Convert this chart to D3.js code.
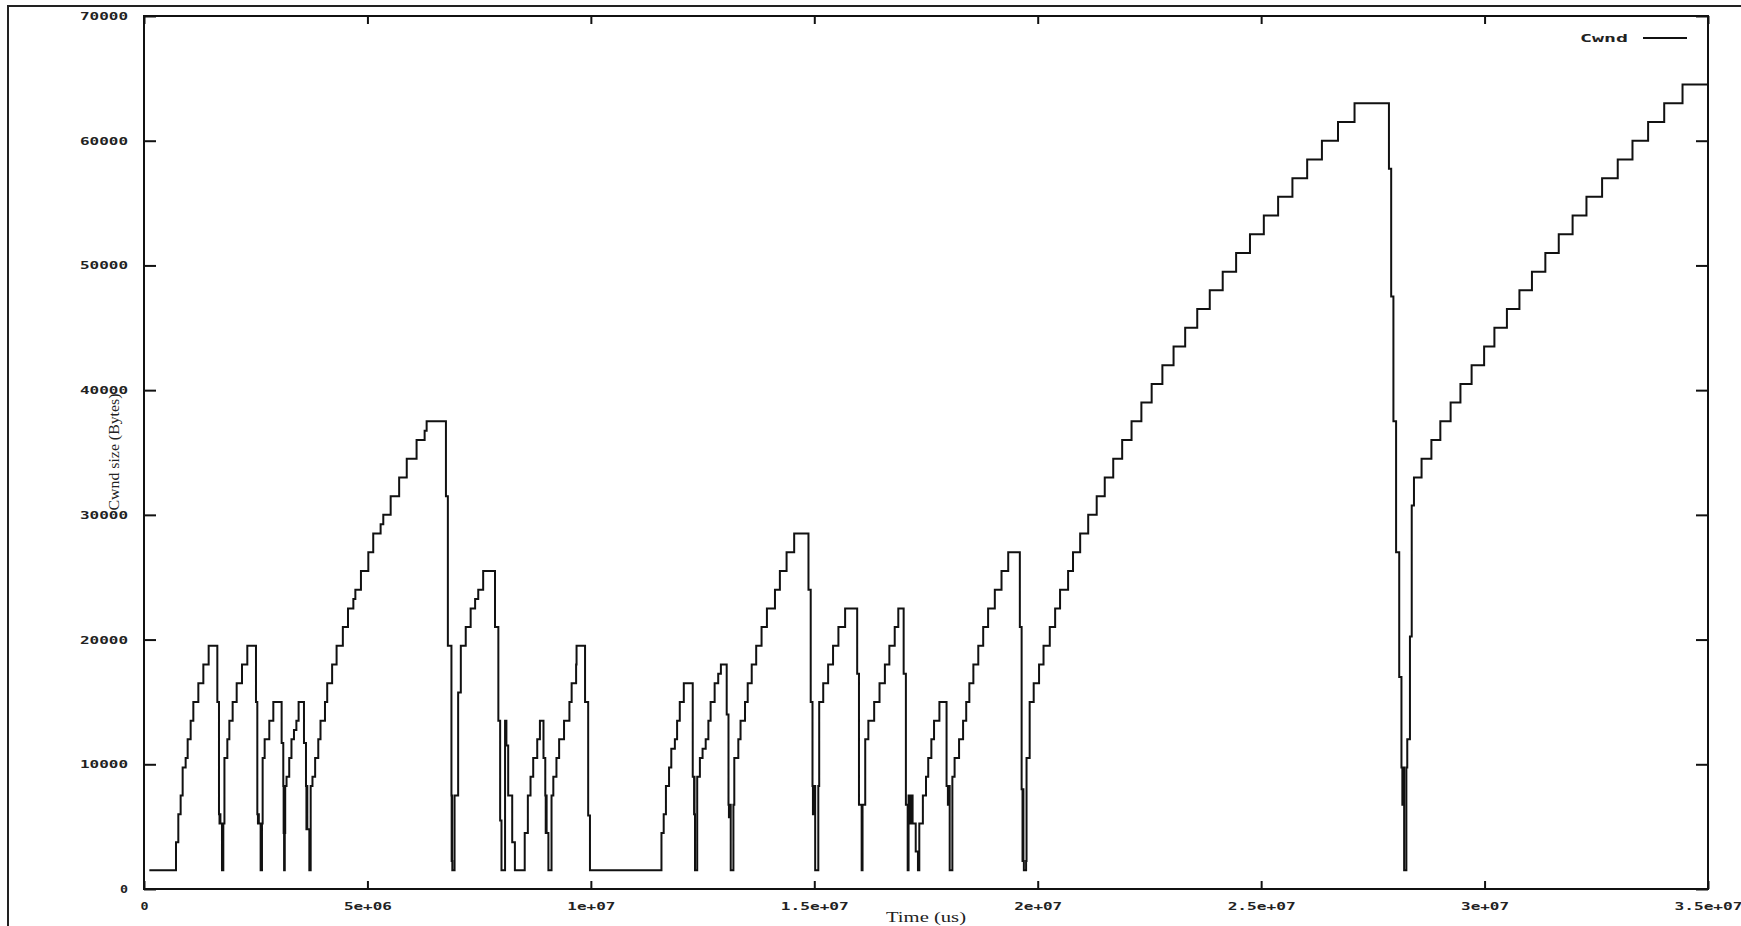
<!DOCTYPE html>
<html><head><meta charset="utf-8">
<script src="https://cdn.jsdelivr.net/npm/d3@7"></script>
<style>body{margin:0;background:#fff;} svg{display:block;}</style>
</head><body>
<svg id="chart" width="1741" height="926"></svg>
<script>
// time in seconds (axis is labelled in microseconds), cwnd in bytes
const timeSec = [
0.12,0.716,0.768,0.82,0.865,0.932,0.977,1.044,1.104,1.216,1.328,1.447,1.641,1.678,1.69,1.70,1.71,1.745,1.775,1.80,
1.865,1.91,1.984,2.074,2.193,2.312,2.506,2.536,2.55,2.56,2.57,2.61,2.64,2.655,
2.70,2.804,2.894,3.08,3.117,3.125,3.13,3.135,3.15,3.16,3.19,
3.25,3.30,3.356,3.41,3.46,3.58,3.625,3.635,3.645,3.655,3.70,3.73,
3.77,3.83,3.90,3.95,4.05,4.10,4.21,4.31,4.45,4.565,4.685,4.73,4.855,5.02,5.13,5.295,5.355,5.52,5.71,5.88,6.10,6.28,6.325,
6.757,6.80,6.88,6.885,6.89,6.895,6.90,6.95,7.03,7.09,7.20,7.31,7.41,7.48,7.59,
7.855,7.93,7.97,8.0,8.08,8.09,8.10,8.11,8.15,8.24,8.30,8.52,8.59,8.65,8.71,8.80,8.86,8.94,8.98,8.99,9.0,9.01,9.05,
9.12,9.16,9.23,9.29,9.40,9.52,9.57,9.67,9.68,9.87,9.94,9.98,
11.58,11.63,11.68,11.75,11.80,11.88,11.93,11.99,12.08,12.28,12.31,12.315,12.32,12.33,12.38,
12.44,12.50,12.57,12.63,12.68,12.77,12.85,12.91,13.04,13.08,13.09,13.10,13.13,13.19,
13.21,13.30,13.35,13.45,13.51,13.60,13.70,13.82,13.94,14.12,14.23,14.38,14.55,14.87,14.92,14.96,14.97,14.98,15.02,15.09,
15.11,15.20,15.31,15.42,15.54,15.69,15.96,16.00,16.06,16.08,
16.14,16.21,16.34,16.46,16.58,16.68,16.80,16.88,17.00,17.05,17.09,17.11,17.14,17.16,17.20,17.27,17.32,17.35,
17.43,17.50,17.55,17.62,17.68,17.80,17.96,17.99,18.00,18.03,
18.09,18.14,18.24,18.33,18.40,18.47,18.56,18.67,18.78,18.89,19.04,19.19,19.34,
19.60,19.64,19.66,19.67,19.68,19.69,19.74,
19.75,19.82,19.91,20.03,20.13,20.27,20.39,20.50,20.68,20.79,20.95,21.13,21.32,
21.50,21.69,21.89,22.10,22.32,22.55,22.79,23.04,23.30,23.57,23.85,24.14,24.44,24.75,25.06,25.38,25.70,26.03,26.36,26.72,27.09,
27.86,27.91,27.96,28.02,28.09,28.14,28.16,28.17,28.20,28.25,28.27,28.33,28.37,28.42,
28.59,28.81,29.01,29.24,29.46,29.71,29.99,30.22,30.50,30.78,31.06,31.36,31.66,31.97,32.28,32.63,32.98,33.31,33.66,34.02,34.43,35.0
];
const cwndBytes = [
1500,3750,6000,7500,9750,10500,12000,13500,15000,16500,18000,19500,15000,6000,5250,6000,5250,1500,5250,10500,
12000,13500,15000,16500,18000,19500,15000,6000,5250,6000,5250,1500,5250,10500,
12000,13500,15000,11700,8250,4500,8250,1500,4500,8250,9000,
10500,12000,12750,13500,15000,11700,8250,4800,8250,4800,1500,8250,
9000,10500,12000,13500,15000,16500,18000,19500,21000,22500,23250,24000,25500,27000,28500,29250,30000,31500,33000,34500,36000,36750,37500,
31500,19500,7500,2250,7500,2250,1500,7500,15750,19500,21000,22500,23250,24000,25500,
21000,13500,5500,1500,13500,11500,13500,11500,7500,3750,1500,4500,7500,9000,10500,12000,13500,10500,7500,4500,7500,4500,1500,
7500,9000,10500,12000,13500,15000,16500,18000,19500,15000,5900,1500,
4500,6000,8250,9750,11250,12000,13500,15000,16500,9000,6000,9000,6000,1500,9000,
10500,11250,12000,13500,15000,16500,17250,18000,14000,6750,5750,6750,1500,6750,
10500,12000,13500,15000,16500,18000,19500,21000,22500,24000,25500,27000,28500,24000,15000,8250,6000,8250,1500,8250,
15000,16500,18000,19500,21000,22500,17250,6750,1500,6750,
12000,13500,15000,16500,18000,19500,21000,22500,17250,6750,1500,7500,5250,7500,5250,3000,1500,5250,
7500,9000,10500,12000,13500,15000,8250,6750,8250,1500,
9000,10500,12000,13500,15000,16500,18000,19500,21000,22500,24000,25500,27000,
21000,8000,2250,8000,2250,1500,2250,
10500,15000,16500,18000,19500,21000,22500,24000,25500,27000,28500,30000,31500,
33000,34500,36000,37500,39000,40500,42000,43500,45000,46500,48000,49500,51000,52500,54000,55500,57000,58500,60000,61500,63000,
57750,47500,37500,27000,17000,9750,6750,9750,1500,9750,12000,20250,30750,33000,
34500,36000,37500,39000,40500,42000,43500,45000,46500,48000,49500,51000,52500,54000,55500,57000,58500,60000,61500,63000,64500,64500
];
const xTickValues = [0, 5, 10, 15, 20, 25, 30, 35];
const xTickLabels = ["0", "5e+06", "1e+07", "1.5e+07", "2e+07", "2.5e+07", "3e+07", "3.5e+07"];
const yTickValues = [0, 10000, 20000, 30000, 40000, 50000, 60000, 70000];
const yTickLabels = ["0", "10000", "20000", "30000", "40000", "50000", "60000", "70000"];
const seriesName = "Cwnd";
const xTitle = "Time (us)";
const yTitle = "Cwnd size (Bytes)";

const data = timeSec.map((t, i) => ({t: t, c: cwndBytes[i]}));

const svg = d3.select("#chart");
const L = 144, R = 1708, T = 16, B = 889;
const ink = "#111";
const x = d3.scaleLinear().domain([0, 35]).range([L, R]);
const y = d3.scaleLinear().domain([0, 70000]).range([B, T]);

// outer frame (only left and top edges visible)
svg.append("rect").attr("x", 8).attr("y", 6).attr("width", 1800).attr("height", 1000)
  .attr("fill", "none").attr("stroke", "#222").attr("stroke-width", 2);

const tickFont = sel => sel
  .attr("font-family", "DejaVu Sans Mono")
  .attr("font-weight", "bold")
  .attr("font-size", 11)
  .attr("fill", "#222")
  .attr("lengthAdjust", "spacingAndGlyphs")
  .attr("textLength", function () { return this.textContent.length * 10 - 2; });

const xi = d3.scaleOrdinal().domain(xTickValues).range(xTickLabels);
const yi = d3.scaleOrdinal().domain(yTickValues).range(yTickLabels);

const gx = svg.append("g").attr("transform", `translate(0,${B})`)
  .call(d3.axisBottom(x).tickValues(xTickValues).tickFormat(v => xi(v)).tickSizeInner(-8).tickSizeOuter(0).tickPadding(13));
const gxt = svg.append("g").attr("transform", `translate(0,${T})`)
  .call(d3.axisTop(x).tickValues(xTickValues).tickFormat("").tickSizeInner(-8).tickSizeOuter(0));
const gy = svg.append("g").attr("transform", `translate(${L},0)`)
  .call(d3.axisLeft(y).tickValues(yTickValues).tickFormat(v => yi(v)).tickSizeInner(-12).tickSizeOuter(0).tickPadding(16));
const gyr = svg.append("g").attr("transform", `translate(${R},0)`)
  .call(d3.axisRight(y).tickValues(yTickValues).tickFormat("").tickSizeInner(-12).tickSizeOuter(0));

[gx, gxt, gy, gyr].forEach(g => {
  g.select(".domain").remove();
  g.selectAll(".tick line").attr("stroke", ink).attr("stroke-width", 2);
});
gx.selectAll(".tick text").call(tickFont);
gy.selectAll(".tick text").call(tickFont);

// plot border
svg.append("rect").attr("x", L).attr("y", T).attr("width", R - L).attr("height", B - T)
  .attr("fill", "none").attr("stroke", ink).attr("stroke-width", 2);

// data line
const line = d3.line().x(d => x(d.t)).y(d => y(d.c)).curve(d3.curveStepAfter);
svg.append("path").datum(data).attr("d", line)
  .attr("fill", "none").attr("stroke", ink).attr("stroke-width", 2);

// axis titles
svg.append("text").attr("x", (L + R) / 2).attr("y", 922).attr("text-anchor", "middle")
  .attr("font-family", "Liberation Serif").attr("font-size", 14).attr("fill", "#222")
  .attr("textLength", 80).attr("lengthAdjust", "spacingAndGlyphs").text(xTitle);
svg.append("text").attr("transform", "translate(119,452) rotate(-90)").attr("text-anchor", "middle")
  .attr("font-family", "Liberation Serif").attr("font-size", 14).attr("fill", "#222")
  .attr("textLength", 117).attr("lengthAdjust", "spacingAndGlyphs").text(yTitle);

// legend
svg.append("text").attr("x", 1628).attr("y", 38).attr("text-anchor", "end").attr("dy", "0.35em")
  .attr("font-family", "DejaVu Sans Mono").attr("font-weight", "bold").attr("font-size", 11).attr("fill", "#222")
  .attr("textLength", 48).attr("lengthAdjust", "spacingAndGlyphs").text(seriesName);
svg.append("line").attr("x1", 1643).attr("x2", 1687).attr("y1", 38).attr("y2", 38)
  .attr("stroke", ink).attr("stroke-width", 2);
</script>
</body></html>
